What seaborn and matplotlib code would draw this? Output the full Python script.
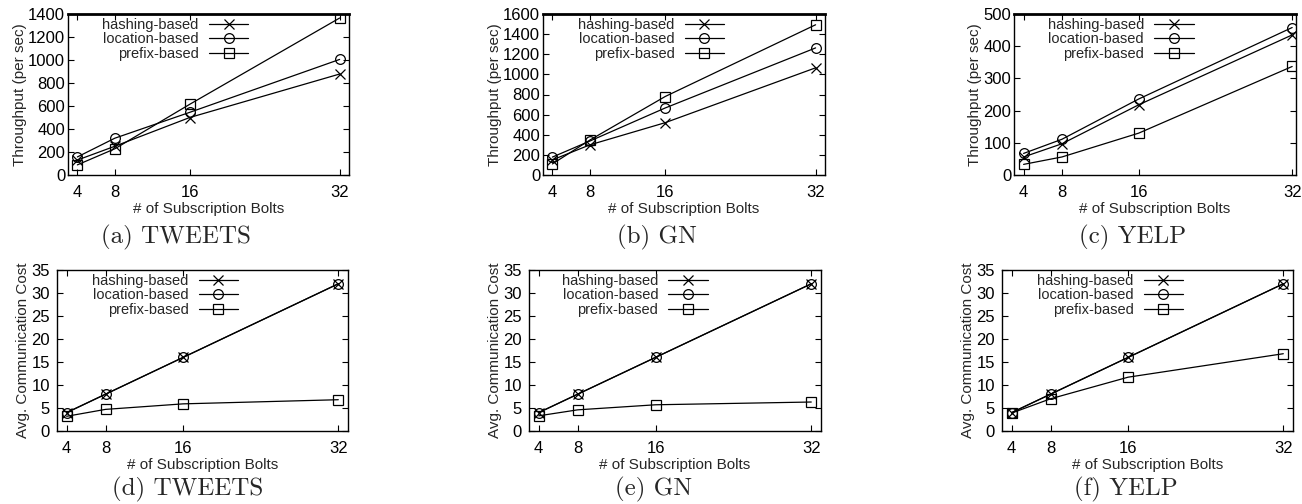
import matplotlib
matplotlib.use("Agg")
import matplotlib.pyplot as plt
import seaborn as sns
import pandas as pd

# ---------------- data ----------------
bolts = [4, 8, 16, 32]
methods = ["hashing-based", "location-based", "prefix-based"]

thr_tweets_hash = [130, 250, 500, 878]
thr_tweets_loc = [157, 320, 545, 1005]
thr_tweets_prefix = [88, 228, 615, 1365]

thr_gn_hash = [150, 300, 520, 1065]
thr_gn_loc = [178, 338, 666, 1263]
thr_gn_prefix = [110, 348, 780, 1493]

thr_yelp_hash = [56, 97, 218, 435]
thr_yelp_loc = [67, 111, 236, 458]
thr_yelp_prefix = [33, 56, 130, 337]

cost_tweets_hash = [4, 8, 16, 32]
cost_tweets_loc = [4, 8, 16, 32]
cost_tweets_prefix = [3.2, 4.7, 5.9, 6.8]

cost_gn_hash = [4, 8, 16, 32]
cost_gn_loc = [4, 8, 16, 32]
cost_gn_prefix = [3.3, 4.6, 5.7, 6.3]

cost_yelp_hash = [4, 8, 16, 32]
cost_yelp_loc = [4, 8, 16, 32]
cost_yelp_prefix = [3.9, 7.0, 11.7, 16.8]

captions = ["(a) TWEETS", "(b) GN", "(c) YELP", "(d) TWEETS", "(e) GN", "(f) YELP"]
ylabels = ["Throughput (per sec)"] * 3 + ["Avg. Communication Cost"] * 3
xlabel = "# of Subscription Bolts"

panels = [
    (thr_tweets_hash, thr_tweets_loc, thr_tweets_prefix),
    (thr_gn_hash, thr_gn_loc, thr_gn_prefix),
    (thr_yelp_hash, thr_yelp_loc, thr_yelp_prefix),
    (cost_tweets_hash, cost_tweets_loc, cost_tweets_prefix),
    (cost_gn_hash, cost_gn_loc, cost_gn_prefix),
    (cost_yelp_hash, cost_yelp_loc, cost_yelp_prefix),
]
ylims = [(0, 1400), (0, 1600), (0, 500), (0, 35), (0, 35), (0, 35)]
ysteps = [200, 200, 100, 5, 5, 5]

# ---------------- style ----------------
sns.set_theme(style="ticks")
plt.rcParams["font.family"] = ["Liberation Sans", "DejaVu Sans"]

W, H = 1302, 504
fig = plt.figure(figsize=(W / 100, H / 100), dpi=100)

# axes boxes in pixels: left, right, top, bottom
boxes = [
    (68, 349, 14, 175), (543, 825, 14, 175), (1014, 1296, 14, 175),
    (57, 348, 270, 431), (529, 821, 270, 431), (1002, 1293, 270, 431),
]
xlims = [(3, 33), (3, 33), (3, 32.4), (3, 33), (3, 33), (3, 33)]
legend_x = [0.655, 0.655, 0.65, 0.635, 0.625, 0.635]
cap_pos = [(176, 237), (657, 237), (1133, 237), (188, 489), (654, 489), (1126, 489)]
markers = {"hashing-based": "x", "location-based": "o", "prefix-based": "s"}

for i, (vals, box) in enumerate(zip(panels, boxes)):
    l, r, t, b = box
    ax = fig.add_axes([l / W, (H - b) / H, (r - l) / W, (b - t) / H])
    for m, v in zip(methods, vals):
        df = pd.DataFrame({"bolts": bolts, "value": v})
        sns.lineplot(data=df, x="bolts", y="value", ax=ax, color="black",
                     marker=markers[m], markersize=7, markerfacecolor="none",
                     markeredgecolor="black", markeredgewidth=0.9,
                     linewidth=0.9, label=m, legend=False)
    ax.set_xlim(*xlims[i])
    ax.set_ylim(*ylims[i])
    ax.set_xticks(bolts)
    lo, hi = ylims[i]
    ax.set_yticks(list(range(lo, hi + 1, ysteps[i])))
    ax.tick_params(direction="in", top=True, right=True, length=4, width=0.8,
                   labelsize=12, colors="black")
    ax.tick_params(axis="x", pad=7)
    ax.tick_params(axis="y", pad=2 if i < 3 else 5)
    for s in ax.spines.values():
        s.set_linewidth(1.0)
        s.set_color("black")
    if i < 3:
        ax.spines["top"].set_linewidth(2.0)
    ax.set_xlabel(xlabel, fontsize=11, labelpad=2)
    ax.set_ylabel(ylabels[i], fontsize=11, labelpad=1)
    ax.legend(handles=ax.get_lines(), labels=methods, loc="upper right",
              bbox_to_anchor=(legend_x[i], 1.0), frameon=False, markerfirst=False,
              fontsize=10.5, handlelength=2.7, handletextpad=0.7,
              labelspacing=0.05, borderaxespad=0.0, borderpad=0.25)
    cx, cy = cap_pos[i]
    fig.text(cx / W, (H - cy) / H, captions[i], ha="center", va="center",
             fontsize=18, family="cmr10")

fig.savefig("out.png", dpi=100)
